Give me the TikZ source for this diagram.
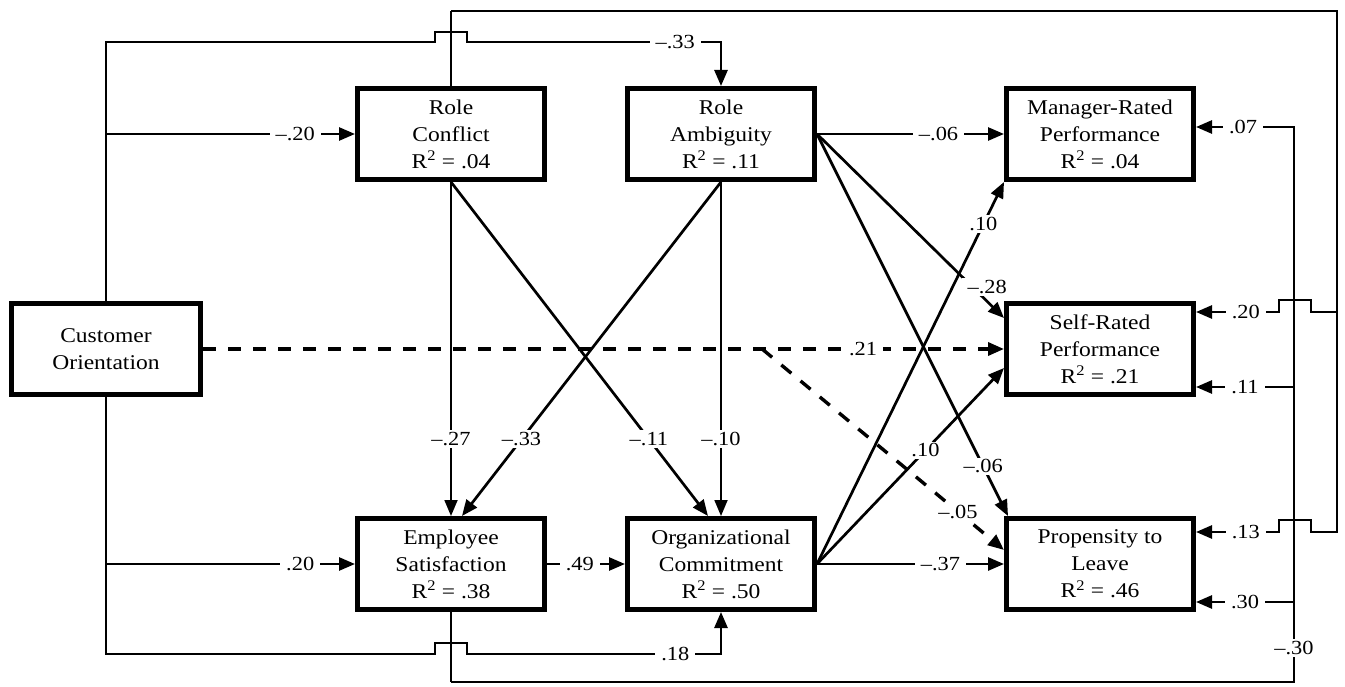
\documentclass[tikz,border=0pt]{standalone}
\usepackage{fontspec}
\setmainfont{Liberation Serif}[FakeStretch=1.12]
\usetikzlibrary{arrows.meta,calc}
\begin{document}
\begin{tikzpicture}[x=1pt,y=-1pt,
  box/.style={draw,line width=5pt,minimum width=187pt,minimum height=91pt,inner sep=0pt,align=center,font=\fontsize{21}{27}\selectfont},
  ln/.style={line width=2.7pt},
  vln/.style={line width=1.8pt},
  arr/.style={-{Triangle[length=16pt,width=13pt]}},
  lab/.style={fill=white,inner xsep=6pt,inner ysep=2pt,font=\fontsize{20}{24}\selectfont},
  dsh/.style={line width=3.4pt,dash pattern=on 13pt off 12pt}]
\useasboundingbox (0,0) rectangle (1345,687);

\node[box,minimum width=189pt] (CO) at (106,349) {Customer\\Orientation};
\node[box] (RC) at (451,134) {Role\\Conflict\\R\textsuperscript{2} = .04};
\node[box] (RA) at (721,134) {Role\\Ambiguity\\R\textsuperscript{2} = .11};
\node[box] (MR) at (1100,134) {Manager-Rated\\Performance\\R\textsuperscript{2} = .04};
\node[box] (SR) at (1100,349) {Self-Rated\\Performance\\R\textsuperscript{2} = .21};
\node[box] (ES) at (451,564) {Employee\\Satisfaction\\R\textsuperscript{2} = .38};
\node[box] (OC) at (721,564) {Organizational\\Commitment\\R\textsuperscript{2} = .50};
\node[box] (PL) at (1100,564) {Propensity to\\Leave\\R\textsuperscript{2} = .46};

% Customer orientation trunks
\draw[ln,arr] (CO.north) |- (435,42) -- (435,32) -- (467,32) -- (467,42) -- node[lab,pos=0.82]{–.33} (721,42) -- (RA.north);
\draw[ln,arr] (106,134) -- node[lab,pos=0.76]{–.20} (RC.west);
\draw[ln,arr] (106,564) -- node[lab,pos=0.78]{.20} (ES.west);
\draw[ln,arr] (CO.south) |- (435,654) -- (435,643) -- (467,643) -- (467,654) -- node[lab,pos=0.82]{.18} (721,654) -- (OC.south);

% role conflict / ambiguity downward
\draw[vln,arr] (RC.south) -- node[lab,pos=0.77]{–.27} (ES.north);
\draw[ln,arr] (RC.south) -- node[lab,pos=0.77]{–.11} ([xshift=-13pt]OC.north);
\draw[ln,arr] (RA.south) -- node[lab,pos=0.77]{–.33} ([xshift=11pt]ES.north);
\draw[vln,arr] (RA.south) -- node[lab,pos=0.77]{–.10} (OC.north);

% role ambiguity fan
\draw[ln,arr] (RA.east) -- node[lab,pos=0.65]{–.06} (MR.west);
\draw[ln,arr] (RA.east) -- node[lab,pos=0.83,xshift=15pt]{–.28} ([yshift=31pt]SR.west);
\draw[ln,arr] (RA.east) -- node[lab,pos=0.87]{–.06} ([xshift=4pt]PL.north west);

% organizational commitment fan
\draw[ln,arr] (OC.east) -- node[lab,pos=0.89]{.10} (MR.south west);
\draw[ln,arr] (OC.east) -- node[lab,pos=0.58]{.10} ([yshift=-19pt]SR.west);
\draw[ln,arr] (OC.east) -- node[lab,pos=0.66]{–.37} (PL.west);
\draw[ln,arr] (ES.east) -- node[lab,pos=0.42]{.49} (OC.west);

% dashed paths
\draw[dsh,arr] (CO.east) -- coordinate[pos=0.698] (br) node[lab,pos=0.824]{.21} (SR.west);
\draw[dsh,arr] (br) -- node[lab,pos=0.81]{–.05} ([yshift=14pt]PL.west);

% right outer loop from role conflict
\draw[vln] (RC.north) -- (451,11);
\draw[ln,arr] (451,11) -| (1337,312) -- (1311,312) -- (1311,300) -- (1279,300) -- (1279,312) -- node[lab,pos=0.40]{.20} ([yshift=37pt]SR.east);
\draw[ln,arr] (1337,312) |- (1311,532) -- (1311,520) -- (1279,520) -- (1279,532) -- node[lab,pos=0.40]{.13} ([yshift=32pt]PL.east);

% inner loop from employee satisfaction
\draw[vln] (ES.south) -- (451,682);
\draw[ln,arr] (451,682) -- (1294,682) -- node[lab,pos=0.061]{–.30} (1294,127) -- node[lab,pos=0.52]{.07} ([yshift=7pt]MR.east);
\draw[ln,arr] (1294,387) -- node[lab]{.11} ([yshift=-38pt]SR.east);
\draw[ln,arr] (1294,602) -- node[lab]{.30} ([yshift=-38pt]PL.east);
\end{tikzpicture}
\end{document}
